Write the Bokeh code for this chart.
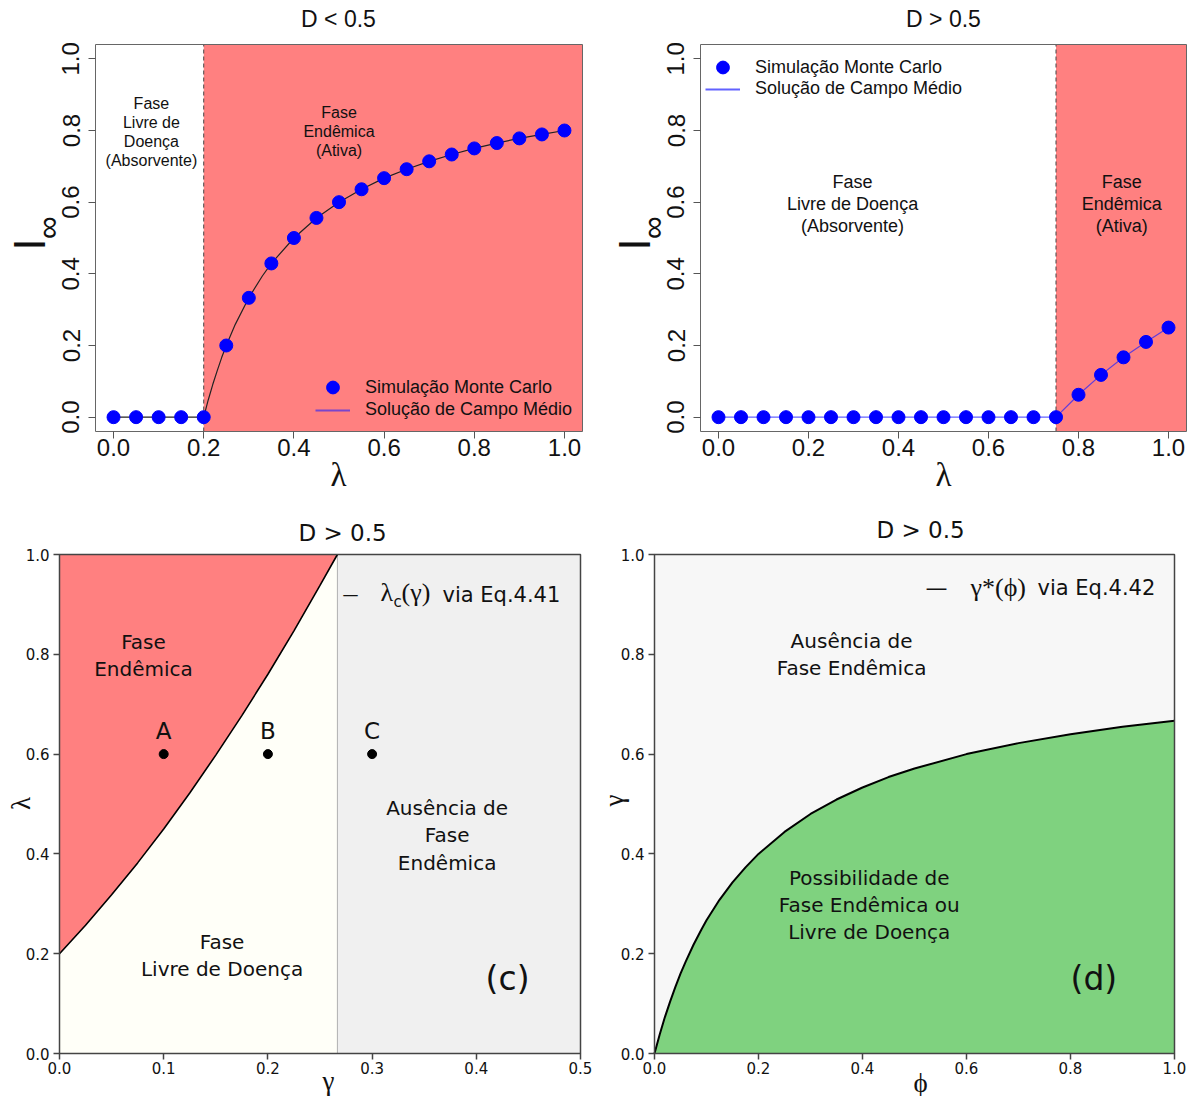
import numpy as np
from bokeh.plotting import figure
from bokeh.models import Range1d, PrintfTickFormatter, Label, Legend, LegendItem
from bokeh.layouts import column, row
from bokeh.embed import file_html
from bokeh.resources import INLINE
from bokeh.core.properties import value

# ---------------- data ----------------
# (a) D < 0.5 : Monte Carlo points and mean-field curve
lam_grid = [0.00, 0.05, 0.10, 0.15, 0.20, 0.25, 0.30, 0.35, 0.40, 0.45, 0.50,
            0.55, 0.60, 0.65, 0.70, 0.75, 0.80, 0.85, 0.90, 0.95, 1.00]
I_mc_low = [0.0, 0.0, 0.0, 0.0, 0.0, 0.200, 0.333, 0.429, 0.500, 0.556, 0.600,
            0.636, 0.667, 0.692, 0.714, 0.733, 0.750, 0.765, 0.778, 0.789, 0.800]
lam_mf_low = [0.00, 0.20, 0.21, 0.22, 0.23, 0.24, 0.25, 0.27, 0.30, 0.33, 0.35, 0.40,
              0.45, 0.50, 0.55, 0.60, 0.65, 0.70, 0.75, 0.80, 0.85, 0.90, 0.95, 1.00]
I_mf_low = [0.0, 0.0, 0.048, 0.091, 0.130, 0.167, 0.200, 0.259, 0.333, 0.394, 0.429, 0.500,
            0.556, 0.600, 0.636, 0.667, 0.692, 0.714, 0.733, 0.750, 0.765, 0.778, 0.789, 0.800]
lam_crit_low = 0.20

# (b) D > 0.5
I_mc_high = [0.0, 0.0, 0.0, 0.0, 0.0, 0.0, 0.0, 0.0, 0.0, 0.0, 0.0,
             0.0, 0.0, 0.0, 0.0, 0.0, 0.0625, 0.118, 0.167, 0.210, 0.250]
lam_crit_high = 0.75

unit_ticks = [0.0, 0.2, 0.4, 0.6, 0.8, 1.0]
gamma_ticks = [0.0, 0.1, 0.2, 0.3, 0.4, 0.5]

# (c) critical line lambda_c(gamma)
gamma_curve = [0.0, 0.025, 0.05, 0.075, 0.10, 0.125, 0.15, 0.175, 0.20, 0.225, 0.25, 0.2667]
lambda_curve = [0.200, 0.257, 0.318, 0.382, 0.450, 0.522, 0.598, 0.677, 0.760, 0.847, 0.938, 1.000]
pt_gamma = [0.1, 0.2, 0.3]
pt_lambda = [0.6, 0.6, 0.6]
pt_names = ["A", "B", "C"]

# (d) gamma*(phi)
phi_curve = [0.0, 0.005, 0.01, 0.02, 0.03, 0.04, 0.05, 0.06, 0.075, 0.09, 0.10, 0.125, 0.15,
             0.175, 0.20, 0.25, 0.30, 0.35, 0.40, 0.45, 0.50, 0.60, 0.70, 0.80, 0.90, 1.00]
gstar_curve = [0.0, 0.019, 0.038, 0.073, 0.104, 0.133, 0.160, 0.184, 0.218, 0.248, 0.267, 0.308,
               0.343, 0.373, 0.400, 0.444, 0.480, 0.509, 0.533, 0.554, 0.571, 0.600, 0.622,
               0.640, 0.655, 0.667]

SANS_R = "Liberation Sans"
SANS = "DejaVu Sans"
SERIF = "Liberation Serif"
RED = "#FF8080"


class Panel:
    """A figure whose frame covers the whole figure; the plotting box is a sub-rectangle."""

    def __init__(self, fig_x0, fig_y0, fig_w, fig_h, box_px, box_data):
        l, r, t, b = box_px
        x0, x1, y0, y1 = box_data
        sx = (r - l) / (x1 - x0)
        sy = (b - t) / (y1 - y0)
        xr = (x0 - (l - fig_x0) / sx, x1 + (fig_x0 + fig_w - r) / sx)
        yr = (y0 - (fig_y0 + fig_h - b) / sy, y1 + (t - fig_y0) / sy)
        p = figure(width=fig_w, height=fig_h, x_range=Range1d(*xr), y_range=Range1d(*yr),
                   output_backend="svg", toolbar_location=None, min_border=0)
        p.title.visible = False
        p.grid.visible = False
        p.outline_line_color = None
        p.background_fill_color = "white"
        p.border_fill_color = "white"
        self.p = p
        self.box = box_data
        self.origin = (fig_x0, fig_y0 + fig_h)

    def axes(self, xticks, yticks, font, size, tick_len, sx, sy, vertical_y, color, lw):
        p = self.p
        x0, x1, y0, y1 = self.box
        p.xaxis[0].fixed_location = y0
        p.yaxis[0].fixed_location = x0
        for ax, ticks, so in ((p.xaxis[0], xticks, sx), (p.yaxis[0], yticks, sy)):
            ax.ticker = ticks
            ax.formatter = PrintfTickFormatter(format="%.1f")
            ax.major_label_text_font = font
            ax.major_label_text_font_size = size
            ax.major_label_text_color = "#111111"
            ax.major_label_standoff = so
            ax.major_tick_out = tick_len
            ax.major_tick_in = 0
            ax.minor_tick_out = 0
            ax.minor_tick_in = 0
            ax.axis_line_color = None
            ax.major_tick_line_color = color
            ax.major_tick_line_width = lw
        if vertical_y:
            p.yaxis[0].major_label_orientation = "vertical"

    def frame_box(self, color, lw):
        x0, x1, y0, y1 = self.box
        self.p.quad(left=x0, right=x1, bottom=y0, top=y1, fill_alpha=0,
                    line_color=color, line_width=lw)

    def slabel(self, x, y, text, font, size, align="center", baseline="middle", angle=0.0,
               color="#111111", line_height=1.2):
        ox, oy = self.origin
        self.p.add_layout(Label(x=x - ox, y=oy - y, x_units="screen", y_units="screen",
                                text=text, text_font=font, text_font_size=f"{size}px",
                                text_align=align, text_baseline=baseline, angle=angle,
                                text_color=color, text_line_height=line_height))

    def dlabel(self, x, y, text, font, size, line_height=1.2):
        self.p.add_layout(Label(x=x, y=y, text=text, text_font=font,
                                text_font_size=f"{size}px", text_align="center",
                                text_baseline="middle", text_color="#111111",
                                text_line_height=line_height))

    def legend(self, renderer, label, vx, vy, glyph_h):
        ox, oy = self.origin
        self.p.add_layout(Legend(
            items=[LegendItem(label=label, renderers=[renderer])],
            location=(vx - ox, oy - vy), border_line_alpha=0, background_fill_alpha=0,
            label_text_font=SANS_R, label_text_font_size="18px", label_text_color="#111111",
            glyph_width=35, glyph_height=glyph_h, label_height=20, spacing=0, padding=0,
            margin=0, label_standoff=15))


# ---------------- panel (a) ----------------
A = Panel(0, 0, 600, 515, (95, 582, 44, 431), (-0.04, 1.04, -0.04, 1.04))
p1 = A.p
A.axes(unit_ticks, unit_ticks, SANS_R, "24px", 7, 0, 9, True, "#555555", 1)
p1.quad(left=lam_crit_low, right=A.box[1], bottom=A.box[2], top=A.box[3],
        fill_color=RED, line_color=None)
p1.segment(x0=lam_crit_low, x1=lam_crit_low, y0=A.box[2], y1=A.box[3],
           line_dash="4 3", line_color="#444444", line_width=1)
p1.line(lam_mf_low, I_mf_low, color="#222222", line_width=1.2)
mc1 = p1.scatter(lam_grid, I_mc_low, size=13, color="#0000FF")
mf1 = p1.line([np.nan], [np.nan], color="#2020FF", alpha=0.6, line_width=2)
A.frame_box("#666666", 1)
A.legend(mc1, "Simulação Monte Carlo", 315, 403, 32)
A.legend(mf1, "Solução de Campo Médio", 315, 420, 20)
A.dlabel(0.084, 0.797, "Fase\nLivre de\nDoença\n(Absorvente)", SANS_R, 16, 1.12)
A.dlabel(0.50, 0.797, "Fase\nEndêmica\n(Ativa)", SANS_R, 16, 1.12)
A.slabel(338, 18, "D < 0.5", SANS_R, 23)
A.slabel(338, 474, "λ", SERIF, 33)
A.slabel(29, 244, "I", SANS_R, 45, angle=np.pi / 2)
A.slabel(47, 227, "∞", SANS_R, 32, angle=np.pi / 2)

# ---------------- panel (b) ----------------
B = Panel(600, 0, 587, 515, (700, 1186, 44, 431), (-0.04, 1.04, -0.04, 1.04))
p2 = B.p
B.axes(unit_ticks, unit_ticks, SANS_R, "24px", 7, 0, 9, True, "#555555", 1)
p2.quad(left=lam_crit_high, right=B.box[1], bottom=B.box[2], top=B.box[3],
        fill_color=RED, line_color=None)
p2.segment(x0=lam_crit_high, x1=lam_crit_high, y0=B.box[2], y1=B.box[3],
           line_dash="4 3", line_color="#444444", line_width=1)
p2.line(lam_grid, I_mc_high, color="#2020FF", alpha=0.7, line_width=1.2)
mc2 = p2.scatter(lam_grid, I_mc_high, size=13, color="#0000FF")
mf2 = p2.line([np.nan], [np.nan], color="#2020FF", alpha=0.7, line_width=2)
B.frame_box("#666666", 1)
B.legend(mc2, "Simulação Monte Carlo", 705, 83, 32)
B.legend(mf2, "Solução de Campo Médio", 705, 99, 20)
B.dlabel(0.298, 0.596, "Fase\nLivre de Doença\n(Absorvente)", SANS_R, 18, 1.1)
B.dlabel(0.896, 0.596, "Fase\nEndêmica\n(Ativa)", SANS_R, 18, 1.1)
B.slabel(943, 18, "D > 0.5", SANS_R, 23)
B.slabel(943, 474, "λ", SERIF, 33)
B.slabel(634, 244, "I", SANS_R, 45, angle=np.pi / 2)
B.slabel(652, 227, "∞", SANS_R, 32, angle=np.pi / 2)

# ---------------- panel (c) ----------------
C = Panel(0, 515, 600, 581, (59, 580, 554, 1053), (0.0, 0.5, 0.0, 1.0))
p3 = C.p
C.axes(gamma_ticks, unit_ticks, SANS, "15px", 6, 2, 4, False, "#444444", 1.5)
p3.quad(left=C.box[0], right=gamma_curve[-1], bottom=C.box[2], top=C.box[3],
        fill_color="#FFFFF8", line_color=None)
p3.quad(left=gamma_curve[-1], right=C.box[1], bottom=C.box[2], top=C.box[3],
        fill_color="#F0F0F0", line_color=None)
p3.varea(x=gamma_curve, y1=lambda_curve, y2=C.box[3], fill_color=RED)
p3.segment(x0=gamma_curve[-1], x1=gamma_curve[-1], y0=C.box[2], y1=C.box[3],
           line_color="#B0B0B0", line_width=1)
p3.line(gamma_curve, lambda_curve, color="black", line_width=1.6)
p3.scatter(pt_gamma, pt_lambda, size=9, color="black")
p3.text(pt_gamma, pt_lambda, text=pt_names, y_offset=-23, text_align="center",
        text_baseline="middle", text_font=value(SANS), text_font_size="23px",
        text_color="#111111")
C.frame_box("#444444", 1.5)
C.dlabel(0.0806, 0.797, "Fase\nEndêmica", SANS, 20, 1.13)
C.dlabel(0.156, 0.196, "Fase\nLivre de Doença", SANS, 20, 1.13)
C.dlabel(0.372, 0.437, "Ausência de\nFase\nEndêmica", SANS, 20, 1.13)
C.dlabel(0.430, 0.150, "(c)", SANS, 33)
C.slabel(342, 594, "—", SANS, 16, align="left")
C.slabel(380, 592, "λ", SERIF, 26, align="left")
C.slabel(393, 601, "c", SANS, 15, align="left")
C.slabel(401, 592, "(γ)", SERIF, 26, align="left")
C.slabel(442, 594, "via Eq.4.41", SANS, 21, align="left")
C.slabel(342, 532, "D > 0.5", SANS, 23)
C.slabel(328, 1080, "γ", SERIF, 27)
C.slabel(20, 803, "λ", SERIF, 27, angle=np.pi / 2)

# ---------------- panel (d) ----------------
D = Panel(600, 515, 587, 581, (654, 1174, 554, 1053), (0.0, 1.0, 0.0, 1.0))
p4 = D.p
D.axes(unit_ticks, unit_ticks, SANS, "15px", 6, 2, 4, False, "#444444", 1.5)
p4.quad(left=D.box[0], right=D.box[1], bottom=D.box[2], top=D.box[3],
        fill_color="#F7F7F7", line_color=None)
p4.varea(x=phi_curve, y1=D.box[2], y2=gstar_curve, fill_color="#7FD27F")
p4.line(phi_curve, gstar_curve, color="black", line_width=2)
D.frame_box("#444444", 1.5)
D.dlabel(0.379, 0.800, "Ausência de\nFase Endêmica", SANS, 20, 1.13)
D.dlabel(0.413, 0.297, "Possibilidade de\nFase Endêmica ou\nLivre de Doença", SANS, 20, 1.13)
D.dlabel(0.845, 0.150, "(d)", SANS, 33)
D.slabel(925, 587, "—", SANS, 22, align="left")
D.slabel(970, 587, "γ*(ϕ)", SERIF, 26, align="left")
D.slabel(1037, 587, "via Eq.4.42", SANS, 21, align="left")
D.slabel(920, 529, "D > 0.5", SANS, 23)
D.slabel(920, 1082, "ϕ", SERIF, 27)
D.slabel(613, 800, "γ", SERIF, 27, angle=np.pi / 2)

layout = column(row(p1, p2), row(p3, p4))
open("out.html", "w").write(file_html(layout, INLINE))
